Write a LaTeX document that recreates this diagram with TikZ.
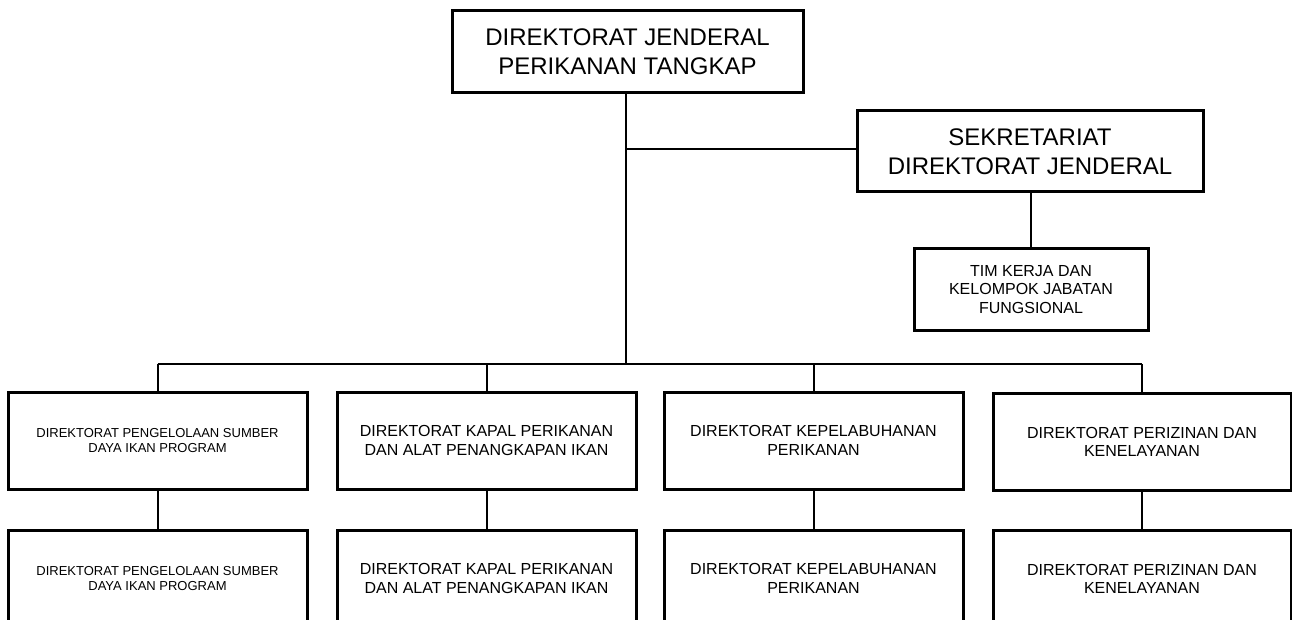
\documentclass[tikz,border=0pt]{standalone}
\usepackage{fontspec}
\setmainfont{Liberation Sans}
\tikzset{
  box/.style={draw, line width=3pt, align=center, inner sep=2pt},
  bigtxt/.style={font=\fontsize{24}{29}\selectfont},
  midtxt/.style={font=\fontsize{16}{18.5}\selectfont},
  smalltxt/.style={font=\fontsize{13}{15.5}\selectfont},
  unitbox/.style={box, minimum width=299pt, minimum height=97pt},
  link/.style={line width=2pt},
}
\begin{document}
\begin{tikzpicture}[x=1pt,y=-1pt]
\useasboundingbox (0,0) rectangle (1292,620);
\clip (0,0) rectangle (1292,620);

\node[box,bigtxt,minimum width=351pt,minimum height=82pt] (top) at (627.5,52) {DIREKTORAT JENDERAL\\PERIKANAN TANGKAP};
\node[box,bigtxt,minimum width=346pt,minimum height=81pt] (sek) at (1030,151.5) {SEKRETARIAT\\DIREKTORAT JENDERAL};
\node[box,midtxt,minimum width=234pt,minimum height=81pt] (tim) at (1031,289.5) {TIM KERJA DAN\\KELOMPOK JABATAN\\FUNGSIONAL};

\node[unitbox,smalltxt] (a1) at (157.5,440.5) {DIREKTORAT PENGELOLAAN SUMBER\\DAYA IKAN PROGRAM};
\node[unitbox,midtxt] (a2) at (486.5,440.5) {DIREKTORAT KAPAL PERIKANAN\\DAN ALAT PENANGKAPAN IKAN};
\node[unitbox,midtxt] (a3) at (813.5,440.5) {DIREKTORAT KEPELABUHANAN\\PERIKANAN};
\node[unitbox,midtxt,minimum width=298pt] (a4) at (1142,442) {DIREKTORAT PERIZINAN DAN\\KENELAYANAN};

\node[unitbox,smalltxt] (b1) at (157.5,578.5) {DIREKTORAT PENGELOLAAN SUMBER\\DAYA IKAN PROGRAM};
\node[unitbox,midtxt] (b2) at (486.5,578.5) {DIREKTORAT KAPAL PERIKANAN\\DAN ALAT PENANGKAPAN IKAN};
\node[unitbox,midtxt] (b3) at (813.5,578.5) {DIREKTORAT KEPELABUHANAN\\PERIKANAN};
\node[unitbox,midtxt,minimum width=298pt] (b4) at (1142,579) {DIREKTORAT PERIZINAN DAN\\KENELAYANAN};

\coordinate (bus) at (626,364);
\coordinate (sekj) at (626,149);

\draw[link] (top.south -| bus) -- (bus);
\draw[link] (sekj) -- (sekj -| sek.west);
\draw[link] (sek.south -| tim.north) -- (tim.north);
\draw[link] (a1.north |- bus) -- (a4.north |- bus);
\foreach \n in {a1,a2,a3,a4}{
  \draw[link] (\n.north |- bus) -- (\n.north);
}
\draw[link] (a1.south) -- (b1.north);
\draw[link] (a2.south) -- (b2.north);
\draw[link] (a3.south) -- (b3.north);
\draw[link] (a4.south) -- (b4.north);
\end{tikzpicture}
\end{document}
